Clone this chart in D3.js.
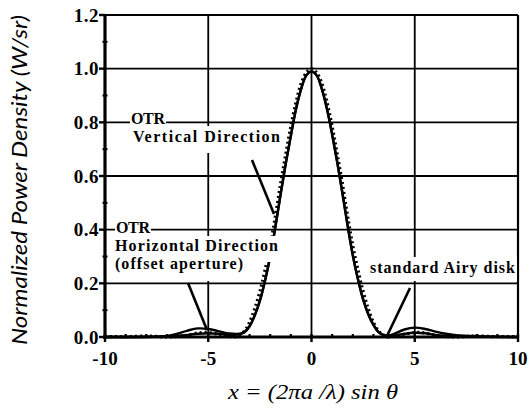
<!DOCTYPE html>
<html><head><meta charset="utf-8">
<script src="https://cdn.jsdelivr.net/npm/d3@7"></script>
<style>body{margin:0;background:#fff}</style>
</head><body>
<svg id="c" width="531" height="411"></svg>
<script>
const xTicks=[-10,-5,0,5,10];
const yTicks=[0,0.2,0.4,0.6,0.8,1.0,1.2];
const xTickLabels=["-10","-5","0","5","10"];
const yTickLabels=["0.0","0.2","0.4","0.6","0.8","1.0","1.2"];

const airyX=[-10,-9,-8,-7.5,-7,-6.5,-6,-5.5,-5,-4.5,-4,-3.75,-3.5,-3.25,-3,-2.75,-2.5,-2.25,-2,-1.75,-1.5,-1.25,-1,-0.75,-0.5,-0.25,0,0.25,0.5,0.75,1,1.25,1.5,1.75,2,2.25,2.5,2.75,3,3.25,3.5,3.75,4,4.5,5,5.5,6,6.5,7,7.5,8,9,10];
const airyY=[0.002,0.001,0.004,0.002,0,0.002,0.007,0.015,0.017,0.01,0.002,0,0.006,0.022,0.055,0.105,0.17,0.25,0.34,0.45,0.57,0.68,0.785,0.875,0.945,0.985,1.0,0.985,0.945,0.875,0.785,0.68,0.57,0.45,0.34,0.25,0.17,0.105,0.055,0.022,0.006,0,0.002,0.01,0.017,0.015,0.007,0.002,0,0.002,0.004,0.001,0.002];

const otrX=[-10,-8,-7,-6.5,-6,-5.5,-5,-4.5,-4,-3.5,-3.25,-3,-2.75,-2.5,-2.25,-2,-1.75,-1.5,-1.25,-1,-0.75,-0.5,-0.25,0,0.25,0.5,0.75,1,1.25,1.5,1.75,2,2.25,2.5,2.75,3,3.25,3.5,3.75,4,4.5,5,5.5,6,6.5,7,8,10];
const otrVY=[0,0,0.002,0.004,0.008,0.012,0.014,0.012,0.008,0.01,0.018,0.04,0.08,0.135,0.21,0.3,0.41,0.53,0.645,0.75,0.85,0.925,0.975,0.99,0.975,0.925,0.85,0.755,0.65,0.535,0.415,0.305,0.215,0.14,0.085,0.045,0.018,0.006,0.003,0.005,0.012,0.016,0.014,0.008,0.004,0.002,0.001,0];
const otrHY=[0,0.001,0.004,0.012,0.024,0.032,0.03,0.022,0.013,0.012,0.018,0.04,0.08,0.135,0.21,0.3,0.41,0.53,0.645,0.75,0.85,0.925,0.975,0.99,0.975,0.925,0.85,0.755,0.65,0.535,0.415,0.305,0.215,0.14,0.085,0.045,0.018,0.008,0.006,0.012,0.028,0.035,0.03,0.02,0.012,0.007,0.003,0];

const svg=d3.select("#c");
const x=d3.scaleLinear().domain([-10,10]).range([105,518]);
const y=d3.scaleLinear().domain([0,1.2]).range([337,15]);

// grid
const g=svg.append("g");
g.selectAll(".hg").data(yTicks.filter(d=>d>0)).enter().append("line")
 .attr("x1",x(-10)).attr("x2",x(10)).attr("y1",d=>y(d)).attr("y2",d=>y(d))
 .attr("stroke","#000").attr("stroke-width",d=>d===1.2?2.2:1.8);
g.selectAll(".vg").data(xTicks.filter(d=>d>-10)).enter().append("line")
 .attr("x1",d=>x(d)).attr("x2",d=>x(d)).attr("y1",y(0)).attr("y2",y(1.2))
 .attr("stroke","#000").attr("stroke-width",d=>d===10?2.2:1.8);

// curves
const line=d3.line().x(d=>x(d[0])).y(d=>y(d[1])).curve(d3.curveCatmullRom);
svg.append("path").attr("d",line(airyX.map((v,i)=>[v,airyY[i]])))
 .attr("fill","none").attr("stroke","#000").attr("stroke-width",3.2).attr("stroke-dasharray","2,3");
svg.append("path").attr("d",line(otrX.map((v,i)=>[v,otrVY[i]])))
 .attr("fill","none").attr("stroke","#000").attr("stroke-width",2.4);
svg.append("path").attr("d",line(otrX.map((v,i)=>[v,otrHY[i]])))
 .attr("fill","none").attr("stroke","#000").attr("stroke-width",2.4);

// annotation boxes and text
const font='"Liberation Serif", serif';
const labels=[
 {t:"OTR",x:131,y:124,w:34,box:false},
 {t:"Vertical Direction",x:133,y:142,w:147,box:[126,153]},
 {t:"OTR",x:116,y:233,w:34,box:false},
 {t:"Horizontal Direction",x:115,y:251,w:163,box:[236,262]},
 {t:"(offset aperture)",x:115,y:269,w:128,box:[255,281]},
 {t:"standard Airy disk",x:370,y:273,w:145,box:[257,281]}
];
labels.forEach(L=>{
  if(L.box) svg.append("rect").attr("x",L.x-2).attr("y",L.box[0]).attr("width",L.w+4).attr("height",L.box[1]-L.box[0]).attr("fill","#fff");
});
labels.forEach(L=>{
  if(!L.box) svg.append("rect").attr("x",L.x-1).attr("y",L.y-12).attr("width",L.w+2).attr("height",12).attr("fill","#fff");
  svg.append("text").attr("x",L.x).attr("y",L.y).text(L.t)
   .attr("font-family",font).attr("font-size",16).attr("font-weight","600")
   .attr("textLength",L.w).attr("lengthAdjust","spacing");
});

// pointers
const ptr=[[252,160,274,214],[188,283,207,330],[410,288,386,338]];
svg.selectAll(".ptr").data(ptr).enter().append("line")
 .attr("x1",d=>d[0]).attr("y1",d=>d[1]).attr("x2",d=>d[2]).attr("y2",d=>d[3])
 .attr("stroke","#000").attr("stroke-width",2.6);

// axes
const ax=svg.append("g");
ax.append("line").attr("x1",x(-10)).attr("x2",x(-10)).attr("y1",y(0)+2).attr("y2",y(1.2)-1).attr("stroke","#000").attr("stroke-width",3.2);
ax.append("line").attr("x1",x(-10)-2).attr("x2",x(10)+1).attr("y1",y(0)).attr("y2",y(0)).attr("stroke","#000").attr("stroke-width",3.2);
const yMinor=d3.range(1,12,2).map(d=>d/10);
ax.selectAll(".ym").data(yMinor).enter().append("line")
 .attr("x1",x(-10)-2.5).attr("x2",x(-10)+2.5).attr("y1",d=>y(d)).attr("y2",d=>y(d)).attr("stroke","#000").attr("stroke-width",2);
ax.selectAll(".yM").data(yTicks).enter().append("line")
 .attr("x1",x(-10)-6).attr("x2",x(-10)).attr("y1",d=>y(d)).attr("y2",d=>y(d)).attr("stroke","#000").attr("stroke-width",2.4);
const xMinor=d3.range(-9,10,1).filter(d=>d%5!==0);
ax.selectAll(".xm").data(xMinor).enter().append("line")
 .attr("x1",d=>x(d)).attr("x2",d=>x(d)).attr("y1",y(0)-3).attr("y2",y(0)+1).attr("stroke","#000").attr("stroke-width",2.2);
ax.selectAll(".xM").data(xTicks).enter().append("line")
 .attr("x1",d=>x(d)).attr("x2",d=>x(d)).attr("y1",y(0)-3).attr("y2",y(0)+5).attr("stroke","#000").attr("stroke-width",2.4);

ax.selectAll(".yl").data(yTicks).enter().append("text")
 .attr("x",x(-10)-6).attr("y",(d)=>y(d)+6.5).attr("text-anchor","end")
 .attr("font-family",font).attr("font-size",19).attr("font-weight","bold").attr("letter-spacing",0.5).text((d,i)=>yTickLabels[i]);
ax.selectAll(".xl").data(xTicks).enter().append("text")
 .attr("x",d=>x(d)).attr("y",y(0)+28).attr("text-anchor","middle")
 .attr("font-family",font).attr("font-size",19).attr("font-weight","bold").text((d,i)=>xTickLabels[i]);

// titles
svg.append("text").attr("transform","translate(27,180) rotate(-90)").attr("text-anchor","middle")
 .attr("font-family",'Lato, sans-serif').attr("font-style","italic").attr("font-size",21.5)
 .attr("textLength",330).attr("lengthAdjust","spacingAndGlyphs")
 .text("Normalized Power Density (W/sr)");
svg.append("text").attr("x",313).attr("y",399).attr("text-anchor","middle")
 .attr("font-family",font).attr("font-style","italic").attr("font-size",21)
 .attr("textLength",170).attr("lengthAdjust","spacingAndGlyphs")
 .text("x = (2πa /λ) sin  θ");
</script>
</body></html>
